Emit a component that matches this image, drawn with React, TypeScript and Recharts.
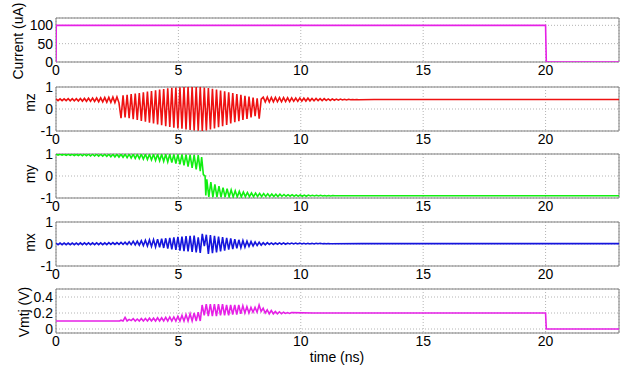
import React from "react";
import { LineChart, Line, XAxis, YAxis, CartesianGrid, ReferenceArea } from "recharts";

// half period of the precession, ns (extremes are sampled on this grid)
const HALF = 0.083;

const timeTicks = [0, 5, 10, 15, 20];
const currentTicks = [0, 50, 100];
const unitTicks = [-1, 0, 1];
const vmtjTicks = [0, 0.2, 0.4];

// Current (uA): [t, value]
const currentPts = [[0, 0], [0.01, 100], [20.0, 100], [20.03, 0], [23, 0]];

// mz: small ripple, big precession, decaying ripple (alternating extremes)
const mzRipple = [
  0.46, 0.38, 0.46, 0.38, 0.46, 0.38, 0.47, 0.37, 0.47, 0.37, 0.47, 0.36, 0.48, 0.36, 0.48, 0.35,
  0.49, 0.35, 0.5, 0.34, 0.5, 0.33, 0.51, 0.32, 0.52, 0.31, 0.53, 0.3, 0.54, 0.29, 0.55, 0.28,
];
const mzBig = [
  -0.42, 0.62, -0.38, 0.65, -0.42, 0.68, -0.46, 0.7, -0.5, 0.73, -0.54, 0.76, -0.58, 0.79,
  -0.62, 0.82, -0.66, 0.85, -0.7, 0.88, -0.74, 0.91, -0.78, 0.94, -0.82, 0.96, -0.85, 0.98,
  -0.88, 0.99, -0.9, 1.0, -0.93, 1.0, -0.95, 1.0, -0.97, 1.0, -0.99, 1.0, -1.0, 0.98,
  -0.97, 0.95, -0.93, 0.92, -0.88, 0.88, -0.83, 0.84, -0.78, 0.8, -0.72, 0.76, -0.66, 0.72,
  -0.6, 0.68, -0.55, 0.64, -0.5, 0.6, -0.45, 0.56, -0.38, 0.52, -0.32, 0.48, -0.44, 0.45,
];
const mzDecay = [
  0.54, 0.32, 0.54, 0.32, 0.53, 0.33, 0.53, 0.33, 0.52, 0.33, 0.52, 0.34, 0.51, 0.34, 0.51, 0.35,
  0.5, 0.35, 0.5, 0.36, 0.49, 0.36, 0.49, 0.37, 0.48, 0.37, 0.48, 0.38, 0.47, 0.38, 0.47, 0.39,
  0.46, 0.39, 0.46, 0.4, 0.45, 0.4, 0.45, 0.41, 0.44, 0.41, 0.44, 0.42, 0.43, 0.42, 0.43, 0.42,
];
const mzTail = [[13, 0.43], [23, 0.43]];

// my: before switching, the switch, after switching
const myBefore = [
  0.99, 0.95, 0.99, 0.95, 0.99, 0.94, 0.99, 0.94, 0.99, 0.93, 0.99, 0.93, 0.99, 0.92, 0.99, 0.92,
  0.99, 0.91, 0.99, 0.91, 0.99, 0.9, 0.99, 0.9, 0.99, 0.89, 0.99, 0.88, 0.99, 0.87, 0.99, 0.86,
  0.99, 0.85, 0.99, 0.83, 0.99, 0.82, 0.99, 0.8, 0.99, 0.79, 0.99, 0.77, 0.99, 0.75, 0.99, 0.73,
  0.99, 0.71, 0.99, 0.69, 0.99, 0.67, 0.99, 0.64, 0.99, 0.61, 0.98, 0.57, 0.98, 0.53, 0.98, 0.48,
  0.97, 0.43, 0.97, 0.37, 0.96, 0.3, 0.95, 0.22,
];
const mySwitch = [[5.95, 0.86], [6.02, 0.06], [6.09, 0.0], [6.12, -0.88]];
const myAfter = [
  -0.15, -0.95, -0.28, -0.96, -0.38, -0.96, -0.46, -0.96, -0.53, -0.96, -0.58, -0.95, -0.63, -0.95,
  -0.67, -0.95, -0.7, -0.95, -0.73, -0.94, -0.75, -0.94, -0.77, -0.94, -0.78, -0.93, -0.79, -0.93,
  -0.8, -0.93, -0.81, -0.93, -0.82, -0.93, -0.83, -0.93, -0.83, -0.92, -0.84, -0.92, -0.85, -0.92,
  -0.85, -0.92, -0.86, -0.92, -0.86, -0.92, -0.87, -0.92, -0.87, -0.91, -0.88, -0.91, -0.88, -0.91,
  -0.88, -0.91, -0.89, -0.91, -0.89, -0.91, -0.89, -0.9,
];
const myTail = [[12, -0.9], [23, -0.9]];

// mx: one run of alternating extremes from t = 0
const mxWave = [
  0.04, -0.03, 0.04, -0.03, 0.04, -0.03, 0.04, -0.03, 0.04, -0.03, 0.04, -0.03, 0.05, -0.03,
  0.05, -0.03, 0.05, -0.03, 0.05, -0.03, 0.05, -0.03, 0.05, -0.03, 0.05, -0.03, 0.06, -0.02,
  0.06, -0.02, 0.06, -0.02, 0.07, -0.02, 0.08, -0.02, 0.1, -0.03, 0.12, -0.04, 0.13, -0.05,
  0.15, -0.07, 0.17, -0.09, 0.19, -0.11, 0.2, -0.13, 0.22, -0.15, 0.24, -0.18, 0.26, -0.21,
  0.28, -0.24, 0.3, -0.27, 0.32, -0.3, 0.34, -0.32, 0.36, -0.34, 0.37, -0.36, 0.38, -0.38,
  0.3, -0.4, 0.46, -0.1, 0.42, -0.45, 0.4, -0.42, 0.37, -0.38, 0.34, -0.34, 0.31, -0.3,
  0.28, -0.26, 0.25, -0.23, 0.22, -0.2, 0.19, -0.17, 0.16, -0.14, 0.13, -0.11, 0.11, -0.09,
  0.09, -0.07, 0.08, -0.05, 0.06, -0.04, 0.06, -0.02, 0.05, -0.02, 0.05, -0.01, 0.05, -0.01,
  0.05, -0.01, 0.04, 0.0, 0.04, 0.0, 0.04, 0.0, 0.04, 0.0, 0.03, 0.0, 0.03, 0.0, 0.03, 0.0,
  0.03, 0.01, 0.03, 0.01, 0.02, 0.01, 0.02, 0.01,
];
const mxTail = [[12.5, 0.015], [23, 0.015]];

// Vmtj (V)
const vHead = [[0, 0.1], [2.6, 0.1]];
const vBefore = [
  0.11, 0.1, 0.145, 0.1, 0.12, 0.105, 0.13, 0.1, 0.125, 0.1, 0.13, 0.1, 0.13, 0.1, 0.135, 0.1,
  0.135, 0.1, 0.14, 0.1, 0.14, 0.1, 0.145, 0.1, 0.15, 0.1, 0.15, 0.1, 0.16, 0.1, 0.17, 0.1,
  0.18, 0.1, 0.19, 0.1, 0.2, 0.1, 0.21, 0.1,
];
const vJump = [[5.97, 0.3]];
const vAfter = [
  0.17, 0.31, 0.16, 0.31, 0.16, 0.31, 0.16, 0.31, 0.17, 0.31, 0.17, 0.3, 0.17, 0.3, 0.18, 0.3,
  0.18, 0.3, 0.19, 0.29, 0.2, 0.28, 0.2, 0.27, 0.21, 0.27, 0.21, 0.3, 0.22, 0.26, 0.2, 0.24,
  0.19, 0.23, 0.19, 0.22, 0.19, 0.215, 0.19, 0.21, 0.195, 0.205, 0.195, 0.205,
];
const vTail = [[10.5, 0.2], [20.0, 0.2], [20.03, 0.0], [23, 0.0]];

type Pt = { t: number; v: number };
const pts = (pairs: number[][]): Pt[] => pairs.map(([t, v]) => ({ t, v }));
const run = (t0: number, vals: number[]): Pt[] =>
  vals.map((v, i) => ({ t: +(t0 + i * HALF).toFixed(3), v }));

const currentData = pts(currentPts);
const mzData = [
  ...run(0, mzRipple),
  ...run(32 * HALF, mzBig),
  ...run(102 * HALF, mzDecay),
  ...pts(mzTail),
];
const myData = [...run(0, myBefore), ...pts(mySwitch), ...run(6.16, myAfter), ...pts(myTail)];
const mxData = [...run(0, mxWave), ...pts(mxTail)];
const vmtjData = [
  ...pts(vHead),
  ...run(32 * HALF, vBefore),
  ...pts(vJump),
  ...run(6.056, vAfter),
  ...pts(vTail),
];

const FONT = "'Liberation Sans', Arial, Helvetica, sans-serif";
const PAD = 8;
const PLOT_H = 44;
const AXIS_H = 18;

type PanelProps = {
  top: number;
  data: Pt[];
  color: string;
  domain: [number, number];
  ticks: number[];
};

const Panel = ({ top, data, color, domain, ticks }: PanelProps) => (
  <div style={{ position: "absolute", left: 0, top: top - PAD }}>
    <LineChart
      width={632}
      height={PAD + PLOT_H + AXIS_H}
      data={data}
      margin={{ top: PAD, right: 13, bottom: 0, left: 16 }}
    >
      <CartesianGrid stroke="#b4b4b4" strokeDasharray="1 2" />
      <XAxis
        dataKey="t"
        type="number"
        domain={[0, 23]}
        ticks={timeTicks}
        interval={0}
        allowDataOverflow
        height={AXIS_H}
        axisLine={false}
        tickLine={false}
        tickSize={3}
        tickMargin={0}
        tick={{ fill: "#000", fontSize: 14, fontFamily: FONT }}
      />
      <YAxis
        type="number"
        domain={domain}
        ticks={ticks}
        interval={0}
        allowDataOverflow
        width={40}
        axisLine={false}
        tickLine={false}
        tickSize={3}
        tickMargin={0}
        tick={{ fill: "#000", fontSize: 14, fontFamily: FONT }}
      />
      <Line
        dataKey="v"
        type="linear"
        stroke={color}
        strokeWidth={1.6}
        dot={false}
        isAnimationActive={false}
      />
      <ReferenceArea
        x1={0}
        x2={23}
        y1={domain[0]}
        y2={domain[1]}
        fill="none"
        stroke="#808080"
        strokeWidth={1}
        fillOpacity={0}
      />
    </LineChart>
  </div>
);

const yLabels = [
  { text: "Current (uA)", x: 23, y: 41 },
  { text: "mz", x: 35, y: 102.5 },
  { text: "my", x: 35, y: 174 },
  { text: "mx", x: 35, y: 242.5 },
  { text: "Vmtj (V)", x: 29, y: 312 },
];

export default function App() {
  return (
    <div
      style={{
        position: "fixed",
        left: 0,
        top: 0,
        width: 632,
        height: 368,
        background: "#fff",
        fontFamily: FONT,
      }}
    >
      <Panel top={18} data={currentData} color="#e620e6" domain={[0, 120]} ticks={currentTicks} />
      <Panel top={86.5} data={mzData} color="#ee1111" domain={[-1, 1]} ticks={unitTicks} />
      <Panel top={153.5} data={myData} color="#11ee11" domain={[-1, 1]} ticks={unitTicks} />
      <Panel top={221.5} data={mxData} color="#1515dd" domain={[-1, 1]} ticks={unitTicks} />
      <Panel top={289} data={vmtjData} color="#e620e6" domain={[-0.05, 0.5]} ticks={vmtjTicks} />
      <svg
        width={632}
        height={368}
        style={{ position: "absolute", left: 0, top: 0, pointerEvents: "none" }}
      >
        {yLabels.map((l) => (
          <text
            key={l.text}
            x={l.x}
            y={l.y}
            transform={`rotate(-90 ${l.x} ${l.y})`}
            textAnchor="middle"
            fontSize={14}
            fontFamily={FONT}
            fill="#000"
          >
            {l.text}
          </text>
        ))}
        <text x={337} y={362} textAnchor="middle" fontSize={14} fontFamily={FONT} fill="#000">
          time (ns)
        </text>
      </svg>
    </div>
  );
}
